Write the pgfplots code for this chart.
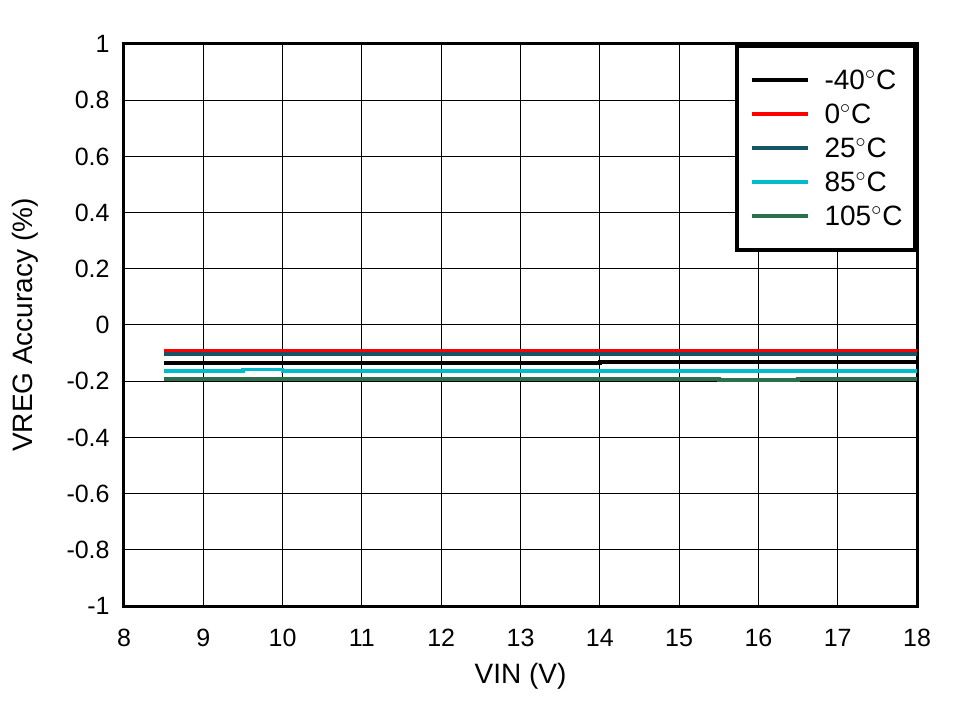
\documentclass[border=0pt]{standalone}
\usepackage{fontspec}
\setmainfont{Liberation Sans}
\usepackage{pgfplots}
\pgfplotsset{compat=1.18}
\definecolor{cRed}{RGB}{255,0,0}
\definecolor{cTeal}{RGB}{22,84,102}
\definecolor{cCyan}{RGB}{0,188,204}
\definecolor{cGreen}{RGB}{45,110,75}
\begin{document}
\begin{tikzpicture}
\begin{axis}[
  width=396.5pt, height=281pt, scale only axis,
  xmin=8, xmax=18, ymin=-1, ymax=1,
  xtick={8,9,...,18},
  ytick={-1,-0.8,...,1},
  yticklabels={-1,-0.8,-0.6,-0.4,-0.2,0,0.2,0.4,0.6,0.8,1},
  grid=major,
  major grid style={line width=0.5pt, black},
  major tick length=0pt,
  axis line style={line width=1.5pt},
  font=\fontsize{12.5}{15}\selectfont,
  /pgf/number format/assume math mode=true,
  xticklabel style={anchor=center, yshift=-16pt, inner sep=0pt},
  yticklabel style={anchor=east, xshift=-7pt, inner sep=0pt},
  xlabel={VIN (V)},
  ylabel={VREG Accuracy (\%)},
  label style={font=\fontsize{14}{17}\selectfont},
  xlabel style={at={(axis description cs:0.5,-0.1246)}, anchor=center, inner sep=0pt},
  ylabel style={at={(axis description cs:-0.1248,0.5)}, anchor=center, inner sep=0pt},
  legend cell align=left,
  legend style={at={(1,1)}, anchor=north east, line width=2pt, draw=black, fill=white,
    inner xsep=6.25pt, inner ysep=12pt, row sep=7pt,
    nodes={inner sep=0pt, text height=10pt, text depth=0pt, line width=0.4pt},
    /tikz/every odd column/.append style={column sep=7.5pt},
    font=\fontsize{14}{17}\selectfont},
  legend image code/.code={\draw[line width=2pt, #1] (0pt,0pt) -- (28pt,0pt);},
  every axis plot/.append style={line width=1.75pt},
]
\addplot[black] coordinates {(8.5,-0.135) (14,-0.135) (14,-0.131) (18,-0.131)};
\addlegendentry{-40${}^\circ$C}
\addplot[cRed] coordinates {(8.5,-0.093) (18,-0.093)};
\addlegendentry{0${}^\circ$C}
\addplot[cTeal] coordinates {(8.5,-0.1025) (18,-0.1025)};
\addlegendentry{25${}^\circ$C}
\addplot[cCyan] coordinates {(8.5,-0.163) (9.5,-0.163) (9.5,-0.158) (10,-0.158) (10,-0.163) (18,-0.163)};
\addlegendentry{85${}^\circ$C}
\addplot[cGreen] coordinates {(8.5,-0.192) (15.5,-0.192) (15.5,-0.196) (16.5,-0.196) (16.5,-0.192) (18,-0.192)};
\addlegendentry{105${}^\circ$C}
\coordinate (sw) at (rel axis cs:0,0);
\coordinate (ne) at (rel axis cs:1,1);
\end{axis}
\path (sw) ++(-62pt,-47.5pt) coordinate (a);
\path (ne) ++(20.5pt,22pt) coordinate (b);
\path (a) rectangle (b);
\end{tikzpicture}
\end{document}
